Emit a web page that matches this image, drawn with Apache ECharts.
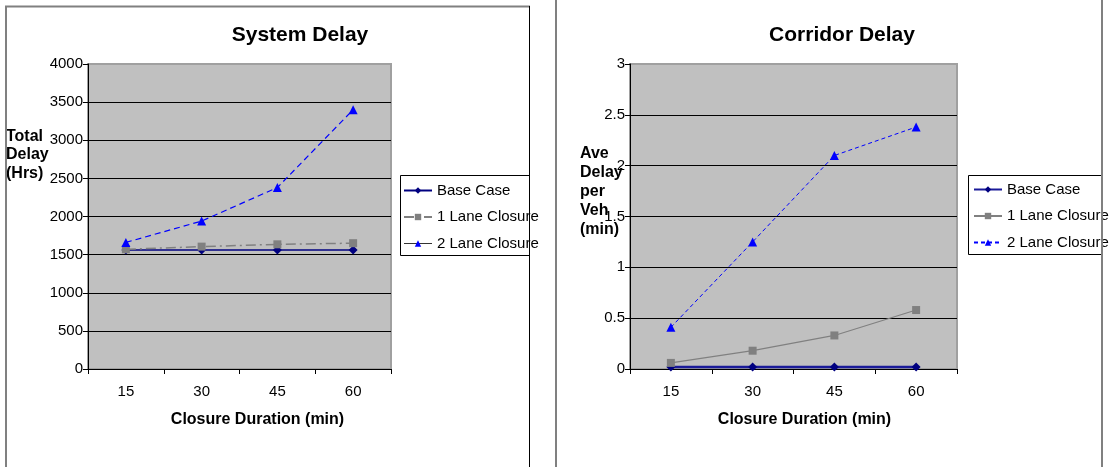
<!DOCTYPE html>
<html><head><meta charset="utf-8">
<script src="https://cdn.jsdelivr.net/npm/echarts@6/dist/echarts.min.js"></script>
<style>
html,body{margin:0;padding:0;background:#fff;}
#wrap{position:relative;width:1118px;height:467px;overflow:hidden;}
#left{position:absolute;left:0;top:0;width:555px;height:467px;}
#right{position:absolute;left:555px;top:0;width:563px;height:467px;}
</style></head>
<body><div id="wrap"><div id="left"></div><div id="right"></div></div>
<script>
// ---- data ----
const categories = ['15', '30', '45', '60'];
const seriesNames = ['Base Case', '1 Lane Closure', '2 Lane Closure'];
const systemTitle = 'System Delay';
const corridorTitle = 'Corridor Delay';
const xAxisTitle = 'Closure Duration (min)';
const systemYName = 'Total\nDelay\n(Hrs)';
const corridorYName = 'Ave\nDelay\nper\nVeh\n(min)';
const systemBase = [1560, 1560, 1560, 1560];
const systemOneLane = [1570, 1605, 1635, 1650];
const systemTwoLane = [1660, 1940, 2380, 3400];
const corridorBase = [0.02, 0.02, 0.02, 0.02];
const corridorOneLane = [0.06, 0.18, 0.33, 0.58];
const corridorTwoLane = [0.41, 1.25, 2.10, 2.38];

const FONT = "'Liberation Sans', Arial, sans-serif";

function baseAxes(gridLeft, gridRight, yMax, yInterval, namePad) {
  return {
    grid: {left: gridLeft, right: gridRight, top: 64, bottom: 98, show: true,
      backgroundColor: '#c0c0c0', borderColor: '#a0a0a0', borderWidth: 2},
    xAxis: {
      type: 'category', data: categories, boundaryGap: true,
      axisLine: {lineStyle: {color: '#000', width: 1}},
      axisTick: {show: true, length: 5, lineStyle: {color: '#000'}},
      axisLabel: {color: '#000', fontSize: 15, fontFamily: FONT, margin: 15},
      name: xAxisTitle, nameLocation: 'middle', nameGap: 43,
      nameTextStyle: {color: '#000', fontSize: 16, fontWeight: 'bold', fontFamily: FONT, padding: namePad}
    },
    yAxis: {
      type: 'value', min: 0, max: yMax, interval: yInterval,
      axisLine: {show: true, lineStyle: {color: '#000', width: 1}},
      axisTick: {show: true, length: 5, lineStyle: {color: '#000'}},
      axisLabel: {color: '#000', fontSize: 15, fontFamily: FONT, margin: 5, formatter: v => String(v)},
      splitLine: {show: true, showMaxLine: false, showMinLine: false, lineStyle: {color: '#000', width: 1}}
    }
  };
}

// ---- left chart ----
const leftChart = echarts.init(document.getElementById('left'), null, {renderer: 'canvas'});
const la = baseAxes(88, 555 - 391, 4000, 500, [0, 0, 0, 36]);
leftChart.setOption({
  animation: false,
  title: {text: systemTitle, left: 295, top: 20, textAlign: 'center',
    textStyle: {fontSize: 21, fontWeight: 'bold', color: '#000', fontFamily: FONT}},
  grid: la.grid, xAxis: la.xAxis, yAxis: la.yAxis,
  legend: {
    orient: 'vertical', left: 398, top: 178, itemWidth: 28, itemHeight: 8, itemGap: 11.5,
    textStyle: {fontSize: 15, color: '#000', fontFamily: FONT},
    data: [
      {name: seriesNames[0]},
      {name: seriesNames[1]},
      {name: seriesNames[2], lineStyle: {color: '#333', type: 'solid', width: 1}}
    ]
  },
  series: [
    {name: seriesNames[0], type: 'line', data: systemBase, symbol: 'diamond', symbolSize: 9,
      itemStyle: {color: '#000080'}, lineStyle: {color: '#000080', width: 1.5}, z: 3},
    {name: seriesNames[1], type: 'line', data: systemOneLane, symbol: 'rect', symbolSize: 8,
      itemStyle: {color: '#808080'}, lineStyle: {color: '#808080', width: 1.5, type: [10, 4, 2, 4]}, z: 4},
    {name: seriesNames[2], type: 'line', data: systemTwoLane, symbol: 'triangle', symbolSize: 9,
      itemStyle: {color: '#0000ff'}, lineStyle: {color: '#0000ff', width: 1.2, type: [6, 4]}, z: 5}
  ],
  graphic: [
    {type: 'text', left: 6, top: 127, style: {text: systemYName, font: 'bold 16px ' + FONT, fill: '#000', lineHeight: 18.5}},
    {type: 'rect', shape: {x: 400.5, y: 175.5, width: 129, height: 80}, style: {fill: 'none', stroke: '#000', lineWidth: 1}, z: 10},
    {type: 'line', shape: {x1: 5, y1: 6.5, x2: 530, y2: 6.5}, style: {stroke: '#808080', lineWidth: 2}, z: 10},
    {type: 'line', shape: {x1: 6, y1: 6, x2: 6, y2: 467}, style: {stroke: '#808080', lineWidth: 2}, z: 10},
    {type: 'line', shape: {x1: 529.5, y1: 6, x2: 529.5, y2: 467}, style: {stroke: '#000', lineWidth: 1}, z: 10}
  ]
});

// ---- right chart ----
const rightChart = echarts.init(document.getElementById('right'), null, {renderer: 'canvas'});
const ra = baseAxes(75, 563 - 402, 3, 0.5, [0, 0, 0, 22]);
rightChart.setOption({
  animation: false,
  title: {text: corridorTitle, left: 282, top: 20, textAlign: 'center',
    textStyle: {fontSize: 21, fontWeight: 'bold', color: '#000', fontFamily: FONT}},
  grid: ra.grid, xAxis: ra.xAxis, yAxis: ra.yAxis,
  legend: {
    orient: 'vertical', left: 413, top: 177, itemWidth: 28, itemHeight: 8, itemGap: 11.5,
    textStyle: {fontSize: 15, color: '#000', fontFamily: FONT},
    data: seriesNames
  },
  series: [
    {name: seriesNames[0], type: 'line', data: corridorBase, symbol: 'diamond', symbolSize: 9,
      itemStyle: {color: '#000080'}, lineStyle: {color: '#1a1a99', width: 2.5}, z: 3},
    {name: seriesNames[1], type: 'line', data: corridorOneLane, symbol: 'rect', symbolSize: 8,
      itemStyle: {color: '#808080'}, lineStyle: {color: '#808080', width: 1.2}, z: 4},
    {name: seriesNames[2], type: 'line', data: corridorTwoLane, symbol: 'triangle', symbolSize: 9,
      itemStyle: {color: '#0000ff'}, lineStyle: {color: '#0000ff', width: 1, type: [4, 3]}, z: 5}
  ],
  graphic: [
    {type: 'text', left: 25, top: 144, style: {text: corridorYName, font: 'bold 16px ' + FONT, fill: '#000', lineHeight: 19}, z: 10},
    {type: 'rect', shape: {x: 413.5, y: 175.5, width: 134, height: 79}, style: {fill: 'none', stroke: '#000', lineWidth: 1}, z: 10},
    {type: 'line', shape: {x1: 1, y1: 0, x2: 1, y2: 467}, style: {stroke: '#808080', lineWidth: 2}, z: 10},
    {type: 'line', shape: {x1: 547, y1: 0, x2: 547, y2: 467}, style: {stroke: '#808080', lineWidth: 2}, z: 10}
  ]
});
</script></body></html>
